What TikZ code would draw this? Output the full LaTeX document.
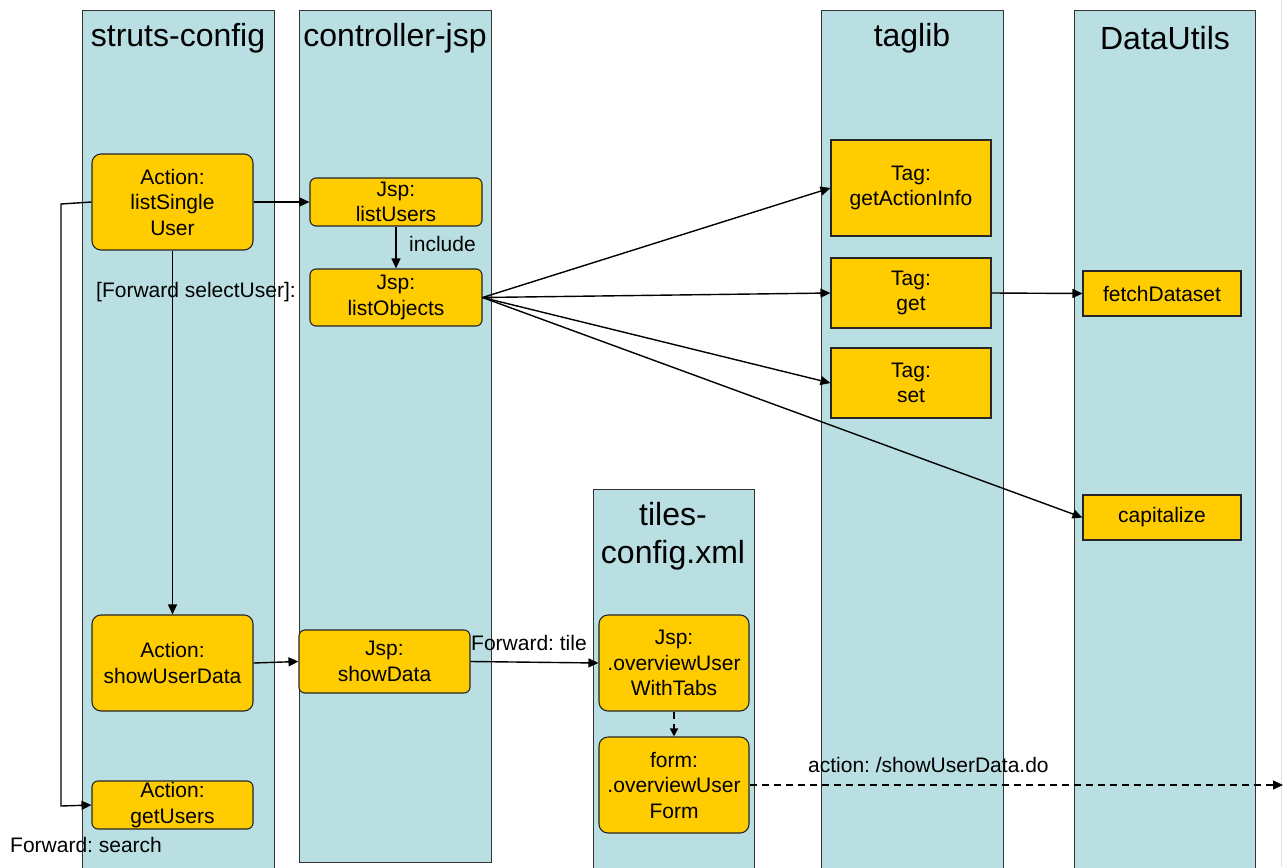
\documentclass[tikz,border=0pt]{standalone}
\usepackage{fontspec}
\setmainfont{Liberation Sans}
\usetikzlibrary{arrows.meta}
\definecolor{lanefill}{HTML}{B9DFE3}
\definecolor{boxfill}{HTML}{FFCC00}
\definecolor{edgegray}{HTML}{333333}
\frenchspacing
\begin{document}
\begin{tikzpicture}[x=1pt,y=-1pt,
  lane/.style={draw=edgegray,line width=1.2pt,fill=lanefill,anchor=north west,inner sep=0pt},
  lanetitle/.style={font=\fontsize{32}{38}\selectfont,align=center},
  rbox/.style={draw=black!85,line width=1.1pt,fill=boxfill,rounded corners=9pt,align=center,inner sep=0pt,
     font=\fontsize{21}{25.5}\selectfont},
  sbox/.style={draw=black!85,line width=1.1pt,fill=boxfill,align=center,inner sep=0pt,
     font=\fontsize{21}{25.5}\selectfont},
  lbl/.style={font=\fontsize{21}{24}\selectfont,inner sep=0pt},
  conn/.style={line width=1.4pt,-{Triangle[length=10pt,width=9pt]}},
  dconn/.style={conn,dash pattern=on 7pt off 5pt}
]
\useasboundingbox (0,0) rectangle (1287,867);
% lanes
\node[lane,minimum width=192pt,minimum height=860pt] (L1) at (82,10) {};
\node[lane,minimum width=192pt,minimum height=852pt] (L2) at (299,10) {};
\node[lane,minimum width=182pt,minimum height=860pt] (L3) at (821,10) {};
\node[lane,minimum width=181pt,minimum height=860pt] (L4) at (1074,10) {};
\node[lane,minimum width=161pt,minimum height=380pt] (L5) at (593,489) {};
\draw[black!12,line width=0.8pt] (1281.5,0) -- (1281.5,867);
% lane titles
\node[lanetitle] (T1) at (178,38) {struts-config};
\node[lanetitle] (T2) at (395,38) {controller-jsp};
\node[lanetitle] (T3) at (912,38) {taglib};
\node[lanetitle] (T4) at (1165,38) {DataUtils};
\node[lanetitle] (T5) at (673,536) {tiles-\\config.xml};
% boxes
\node[rbox,minimum width=161pt,minimum height=96pt] (lsu) at (172.5,202) {Action:\\listSingle\\User};
\node[rbox,minimum width=172pt,minimum height=48pt,rounded corners=6pt] (lu) at (396,202) {Jsp:\\listUsers};
\node[rbox,minimum width=172pt,minimum height=57pt,rounded corners=6pt] (lo) at (396,297.5) {Jsp:\\listObjects};
\node[rbox,minimum width=161pt,minimum height=96pt] (sud) at (172.5,663) {Action:\\showUserData};
\node[rbox,minimum width=161pt,minimum height=48pt,rounded corners=6pt] (gu) at (172.5,805) {Action:\\getUsers};
\node[rbox,minimum width=171pt,minimum height=63pt,rounded corners=6pt] (sd) at (384.5,661.5) {Jsp:\\showData};
\node[rbox,minimum width=150pt,minimum height=96pt] (ow) at (674,663) {Jsp:\\.overviewUser\\WithTabs};
\node[rbox,minimum width=150pt,minimum height=96pt] (of) at (674,785) {form:\\.overviewUser\\Form};
\node[sbox,minimum width=160pt,minimum height=96pt] (gai) at (911,188) {Tag:\\getActionInfo};
\node[sbox,minimum width=160pt,minimum height=70pt] (get) at (911,293) {Tag:\\get};
\node[sbox,minimum width=160pt,minimum height=70pt] (set) at (911,383) {Tag:\\set};
\node[sbox,minimum width=158pt,minimum height=45pt] (fd) at (1162,293.5) {fetchDataset};
\node[sbox,minimum width=158pt,minimum height=45pt] (cap) at (1162,517.5) {capitalize};
% connectors
\draw[conn] (lsu.east) -- (lu.west);
\draw[conn] (lsu.south) -- (sud.north);
\node[lbl] (fsu) at (196,292) {[Forward selectUser]:};
\coordinate (lp1) at (61,204);
\coordinate (lp2) at (61,806);
\draw[conn] (lsu.west) -- (lp1) -- (lp2) -- (gu.west);
\node[lbl,anchor=west] (fs) at (10,845) {Forward: search};
\draw[conn] (lu.south) -- (lo.north);
\node[lbl,anchor=west] (inc) at (409,244) {include};
\draw[conn] (lo.east) -- (gai.west);
\draw[conn] (lo.east) -- (get.west);
\draw[conn] (lo.east) -- (set.west);
\draw[conn] (lo.east) -- (cap.west);
\draw[conn] (get.east) -- (fd.west);
\draw[conn] (sud.east) -- (sd.west);
\draw[conn] (sd.east) -- (ow.west);
\node[lbl,anchor=west] (ft) at (471,643) {Forward: tile};
\draw[dconn,-{Triangle[length=8pt,width=8pt]}] (ow.south) -- (of.north);
\coordinate (endp) at (1283,785);
\draw[dconn] (of.east) -- (endp);
\node[lbl,anchor=west] (act) at (808,765) {action: /showUserData.do};
\end{tikzpicture}
\end{document}
